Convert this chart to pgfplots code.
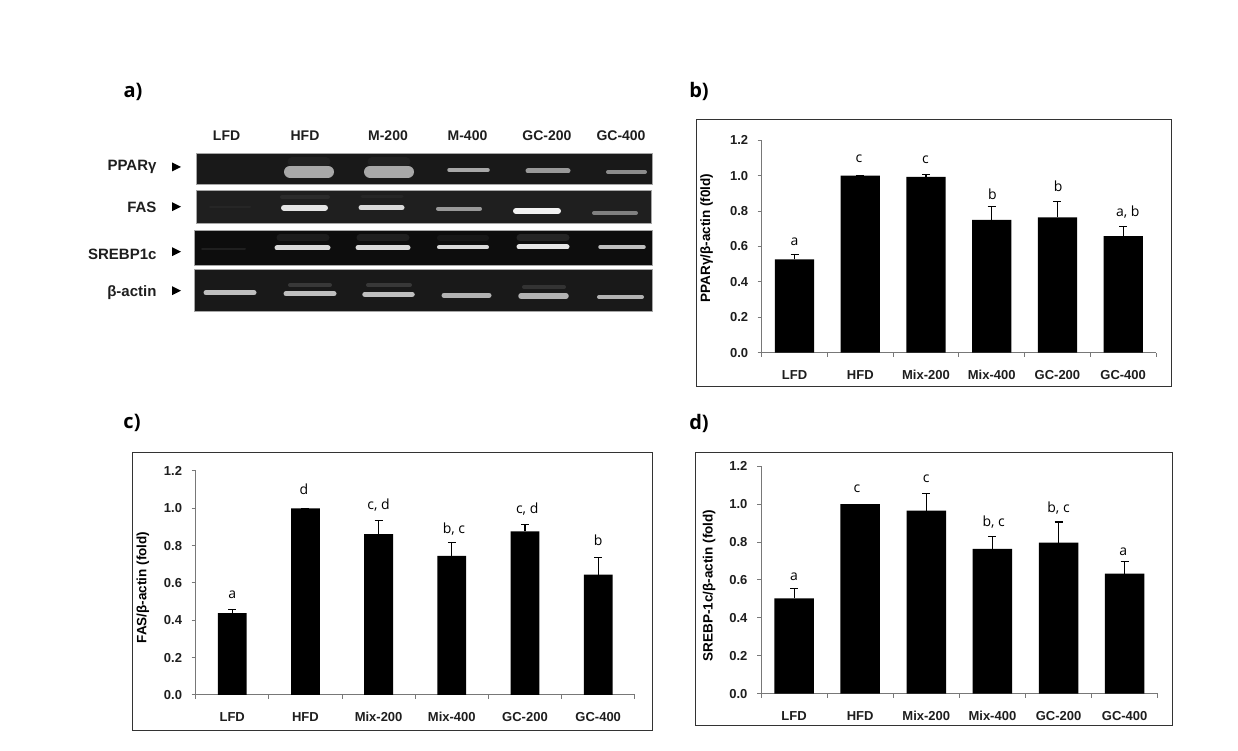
\documentclass[border=0pt]{standalone}
\usepackage{fontspec}
\setmainfont{Liberation Sans}
\newfontfamily\letfont{Open Sans}
\usepackage{pgfplots}
\pgfplotsset{compat=1.18}

\definecolor{axgray}{RGB}{120,120,120}
\definecolor{txt}{RGB}{30,30,30}

\newcommand{\band}[5]{\addplot[draw=white!#5!black, line width=#4pt, line cap=round, forget plot] coordinates {(#1,#3)(#2,#3)};}
\newcommand{\gelbox}[5]{\addplot[fill=#5, draw=gray!70, line width=1pt, forget plot] coordinates {(#1,#3)(#2,#3)(#2,#4)(#1,#4)} -- cycle;}
\newcommand{\tri}[3]{\addplot[fill=black, draw=none, forget plot] coordinates {(172,#1)(181,#2)(172,#3)} -- cycle;}
\newcommand{\frm}[4]{\addplot[draw=black!80, line width=1pt, forget plot] coordinates {(#1,#3)(#2,#3)(#2,#4)(#1,#4)} -- cycle;}
\newcommand{\lett}[3]{\node[font=\letfont\fontsize{14}{16}\selectfont, text=black] at (axis cs:#1,#2) {#3};}
\newcommand{\lane}[2]{\node[font=\bfseries\fontsize{14}{16}\selectfont, text=txt] at (axis cs:#1,135.7) {#2};}
\newcommand{\gene}[2]{\node[font=\bfseries\fontsize{15}{17}\selectfont, text=txt, anchor=east] at (axis cs:160,#1) {#2};}
\newcommand{\plabel}[3]{\node[font=\letfont\bfseries\fontsize{20}{23}\selectfont] at (axis cs:#1,#2) {#3};}

\pgfplotsset{
  panel/.style={
    scale only axis, anchor=south west,
    axis lines*=left,
    axis line style={draw=axgray, line width=1pt, -},
    xmin=-0.5, xmax=5.5, ymin=0, ymax=1.2,
    xtick={-0.5,0.5,1.5,2.5,3.5,4.5,5.5},
    x tick label as interval,
    xticklabels={LFD,HFD,Mix-200,Mix-400,GC-200,GC-400},
    ytick={0,0.2,0.4,0.6,0.8,1.0,1.2},
    tick align=outside, major tick length=4pt,
    tick style={draw=axgray, line width=1pt},
    /pgf/number format/assume math mode=true,
    /pgf/number format/fixed, /pgf/number format/fixed zerofill, /pgf/number format/precision=1,
    xticklabel style={font=\bfseries\fontsize{13}{15}\selectfont, text=txt, yshift=-10pt},
    yticklabel style={font=\bfseries\fontsize{13}{15}\selectfont, text=txt, xshift=-6pt},
    ylabel style={font=\bfseries\fontsize{13.5}{15}\selectfont, text=black, anchor=center},
    clip=false,
  },
  errs/.style={
    ybar, fill=black, draw=none,
    error bars/.cd, y dir=plus, y explicit,
    error bar style={line width=1.1pt, black},
    error mark options={rotate=90, mark size=4pt, line width=1.1pt, black},
    /pgfplots/.cd,
  },
}

\begin{document}
\begin{tikzpicture}[x=1pt,y=1pt]
\path[use as bounding box] (0,0) rectangle (1238pt,751pt);

% page axis in image pixels: gel panel, frames, panel letters
\begin{axis}[
  at={(0pt,0pt)}, anchor=south west, scale only axis,
  width=1238pt, height=751pt, hide axis,
  xmin=0, xmax=1238, ymin=0, ymax=751, y dir=reverse, clip=false,
]
  \frm{696.5}{1171.5}{119.5}{386}
  \frm{132}{652}{452.5}{730}
  \frm{695}{1172.5}{452.5}{725.5}

  \gelbox{196.7}{652.2}{153.3}{185}{black!90}
  \gelbox{196}{651.5}{190.7}{224}{black!88}
  \gelbox{194.9}{652.2}{230.7}{265.3}{black!95}
  \gelbox{194.9}{652.9}{270}{311.3}{black!90}

  % smears above the bands
  \band{292}{326}{162}{9}{13}
  \band{372}{406}{162}{9}{13}
  \band{282}{328}{197}{4}{17}
  \band{362}{402}{197}{3}{15}
  \band{280}{326}{238}{7}{11}
  \band{360}{406}{238}{7}{12}
  \band{440}{486}{238}{6}{9}
  \band{520}{566}{238}{7}{14}
  \band{290}{330}{285}{4}{22}
  \band{368}{410}{285}{4}{22}
  \band{524}{564}{287}{4}{20}

  % PPARg
  \band{290}{328}{171.7}{12}{66}
  \band{370}{408}{171.7}{12}{66}
  \band{449}{488}{170}{3.5}{66}
  \band{528}{568}{171}{5}{60}
  \band{608}{645}{172}{4}{55}
  % FAS
  \band{210}{250}{207}{2}{15}
  \band{284}{325}{207.7}{6}{90}
  \band{361}{402}{207.7}{5}{85}
  \band{438}{480}{208.7}{4}{60}
  \band{516}{558}{211}{6}{95}
  \band{594}{636}{213}{4}{50}
  % SREBP1c
  \band{202}{245}{249.3}{2}{12}
  \band{277}{328}{248}{5}{85}
  \band{358}{408}{247.7}{5}{85}
  \band{439}{487}{247.3}{4}{85}
  \band{519}{567}{247}{5}{90}
  \band{600}{644}{247}{3.5}{75}
  % b-actin
  \band{206}{254}{292.7}{5}{75}
  \band{286}{334}{293.7}{5}{75}
  \band{365}{412}{294.3}{5.5}{75}
  \band{444}{489}{295.3}{5}{70}
  \band{521}{566}{296}{5.5}{70}
  \band{599}{642}{297}{4}{70}

  \tri{162.5}{167}{171.5}
  \tri{202.2}{206.7}{211.2}
  \tri{247.2}{251.7}{256.2}
  \tri{286.2}{290.7}{295.2}

  \lane{226.6}{LFD}
  \lane{305}{HFD}
  \lane{388}{M-200}
  \lane{467.5}{M-400}
  \lane{547}{GC-200}
  \lane{621}{GC-400}
  \gene{167}{PPARγ}
  \gene{207}{FAS}
  \gene{254}{SREBP1c}
  \gene{293}{β-actin}

  \plabel{133}{92}{a)}
  \plabel{699}{91}{b)}
  \plabel{132}{423}{c)}
  \plabel{699}{423}{d)}
\end{axis}

% b) PPARg
\begin{axis}[panel, at={(761.7pt,398.3pt)}, width=394.3pt, height=212.4pt,
  ylabel={PPARγ/β-actin (f0ld)},
  ylabel style={at={(axis description cs:-0.1395,0.54)}}]
  \addplot[bar width=39.3pt, errs] coordinates {
    (0,0.527) +- (0,0.029)
    (1,1.000) +- (0,0)
    (2,0.994) +- (0,0.013)
    (3,0.750) +- (0,0.077)
    (4,0.765) +- (0,0.088)
    (5,0.659) +- (0,0.055)
  };
  \lett{0}{0.627}{a}
  \lett{0.98}{1.094}{c}
  \lett{1.99}{1.088}{c}
  \lett{3.01}{0.896}{b}
  \lett{4.01}{0.938}{b}
  \lett{5.07}{0.797}{a, b}
\end{axis}

% c) FAS
\begin{axis}[panel, at={(195.6pt,56pt)}, width=439.2pt, height=224pt,
  ylabel={FAS/β-actin (fold)},
  ylabel style={at={(axis description cs:-0.12,0.48)}}]
  \addplot[bar width=28.8pt, errs] coordinates {
    (0,0.439) +- (0,0.018)
    (1,1.000) +- (0,0)
    (2,0.862) +- (0,0.071)
    (3,0.745) +- (0,0.071)
    (4,0.877) +- (0,0.037)
    (5,0.645) +- (0,0.091)
  };
  \lett{0}{0.536}{a}
  \lett{0.98}{1.102}{d}
  \lett{2}{1.02}{c, d}
  \lett{3.03}{0.8875}{b, c}
  \lett{4.03}{0.995}{c, d}
  \lett{5}{0.83}{b}
\end{axis}

% d) SREBP-1c
\begin{axis}[panel, at={(761pt,57.3pt)}, width=396.7pt, height=227.4pt,
  ylabel={SREBP-1c/β-actin (fold)},
  ylabel style={at={(axis description cs:-0.131,0.476)}}]
  \addplot[bar width=39.5pt, errs] coordinates {
    (0,0.503) +- (0,0.051)
    (1,1.000) +- (0,0)
    (2,0.966) +- (0,0.091)
    (3,0.764) +- (0,0.065)
    (4,0.797) +- (0,0.109)
    (5,0.633) +- (0,0.066)
  };
  \lett{0}{0.616}{a}
  \lett{0.95}{1.082}{c}
  \lett{2}{1.133}{c}
  \lett{3.02}{0.906}{b, c}
  \lett{4}{0.978}{b, c}
  \lett{4.98}{0.748}{a}
\end{axis}
\end{tikzpicture}
\end{document}
